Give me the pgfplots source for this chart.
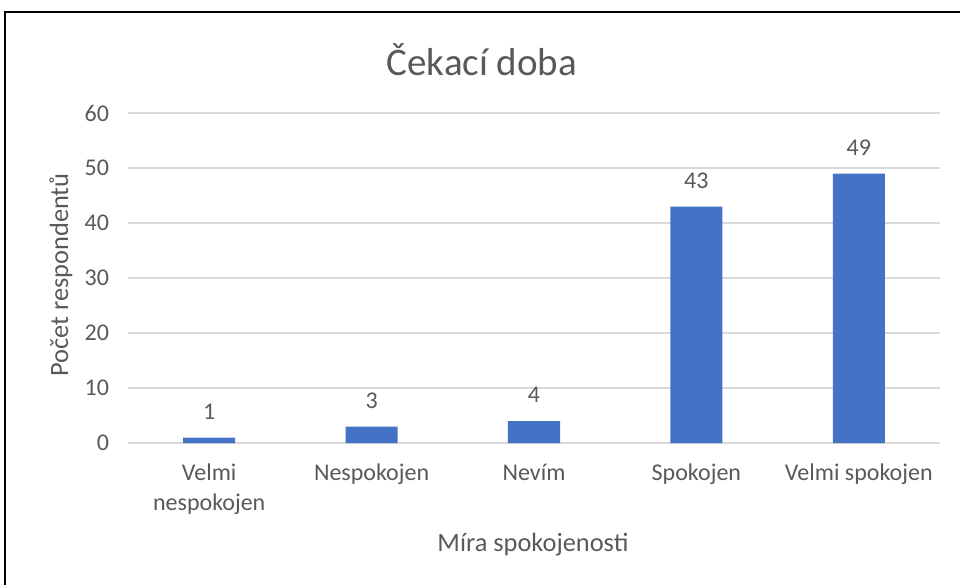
\documentclass[border=0pt]{standalone}
\usepackage{fontspec}
\setmainfont{Carlito}
\usepackage{pgfplots}
\pgfplotsset{compat=1.18}
\definecolor{barblue}{HTML}{4472C4}
\definecolor{gridgray}{HTML}{D9D9D9}
\definecolor{txtgray}{HTML}{595959}
\begin{document}
\begin{tikzpicture}[x=0.5pt,y=0.5pt]
\path[use as bounding box] (0,0) rectangle (960,585);
\draw[line width=1.2pt,black] (5,0) -- (5,573) -- (960,573);
\node[text=txtgray,font=\fontsize{19.5}{23}\selectfont] at (482,525) {Čekací doba};
\node[text=txtgray,font=\fontsize{13.2}{16}\selectfont,rotate=90] at (61,310) {Počet respondentů};
\node[text=txtgray,font=\fontsize{13.2}{16}\selectfont] at (533,40) {Míra spokojenosti};
\begin{axis}[
  at={(64pt,71pt)}, anchor=south west,
  scale only axis, width=406pt, height=165pt,
  xmin=-0.5, xmax=4.5, ymin=0, ymax=60,
  ytick={0,10,...,60},
  xtick={0,1,2,3,4},
  xticklabels={{Velmi\\nespokojen},Nespokojen,Nevím,Spokojen,{Velmi spokojen}},
  axis x line*=bottom, axis y line*=left,
  x axis line style={draw=gridgray,line width=0.6pt},
  y axis line style={draw=none},
  major tick length=0pt,
  ymajorgrids, grid style={draw=gridgray,line width=0.6pt},
  /pgf/number format/assume math mode=true,
  ticklabel style={text=txtgray,font=\fontsize{12}{15}\selectfont},
  yticklabel style={xshift=-6pt},
  xticklabel style={align=center,yshift=-7pt},
]
\addplot[ybar, bar width=26pt, fill=barblue, draw=none,
  nodes near coords,
  nodes near coords style={text=txtgray,font=\fontsize{12}{15}\selectfont,yshift=5.5pt}]
  coordinates {(0,1) (1,3) (2,4) (3,43) (4,49)};
\end{axis}
\end{tikzpicture}
\end{document}
